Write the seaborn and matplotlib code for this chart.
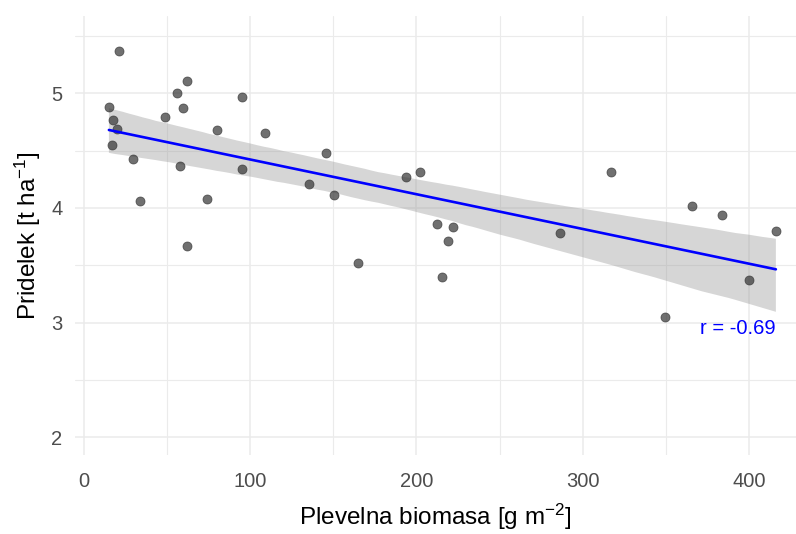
import numpy as np
import pandas as pd
import matplotlib
matplotlib.use("Agg")
import matplotlib.pyplot as plt
import seaborn as sns

biomass = [15.0, 21.0, 17.4, 19.8, 16.8, 29.7, 33.6, 48.9, 56.1, 61.8, 59.7, 57.6,
           61.8, 73.8, 80.0, 95.0, 95.0, 109.0, 145.5, 135.4, 150.6, 164.7, 193.9,
           202.1, 212.3, 222.0, 219.2, 215.2, 286.4, 317.1, 365.6, 383.7, 416.2,
           400.0, 349.4]
yield_ = [4.88, 5.37, 4.77, 4.69, 4.55, 4.43, 4.06, 4.79, 5.00, 5.11, 4.87, 4.37,
          3.67, 4.08, 4.68, 4.97, 4.34, 4.65, 4.48, 4.21, 4.11, 3.52, 4.27,
          4.31, 3.86, 3.83, 3.71, 3.40, 3.78, 4.31, 4.02, 3.94, 3.80,
          3.37, 3.05]
x_ticks = [0, 100, 200, 300, 400]
y_ticks = [2, 3, 4, 5]
r_label = "r = -0.69"

df = pd.DataFrame({"biomasa": biomass, "pridelek": yield_})

sns.set_theme(style="white")
fam = ["Liberation Sans Narrow", "Liberation Sans", "DejaVu Sans"]
plt.rcParams["font.family"] = fam
plt.rcParams["mathtext.fontset"] = "custom"
plt.rcParams["mathtext.rm"] = "Liberation Sans"
plt.rcParams["mathtext.it"] = "Liberation Sans"

fig = plt.figure(figsize=(7.96, 5.34), dpi=100)
ax = fig.add_axes([0.0942, 0.148, 0.906, 0.822])

grid_c = "#EBEBEB"
for v in np.arange(-50, 451, 50):
    ax.axvline(v, color=grid_c, lw=1.1 if v % 100 == 0 else 0.8, zorder=0)
for v in np.arange(1.5, 6.01, 0.5):
    ax.axhline(v, color=grid_c, lw=1.1 if v % 1 == 0 else 0.8, zorder=0)

sns.regplot(data=df, x="biomasa", y="pridelek", ax=ax, ci=95, seed=1,
            scatter_kws=dict(s=42, color="#333333", alpha=0.7, edgecolor="#333333",
                             linewidths=0.6, zorder=3),
            line_kws=dict(color="#0000FF", lw=1.9, zorder=4))
for coll in ax.collections[1:]:
    coll.set_facecolor("#999999")
    coll.set_alpha(0.4)
    coll.set_edgecolor("none")
    coll.set_zorder(2)

ax.text(416, 2.95, r_label, color="#0000FF", fontsize=14.5, ha="right", va="center")

ax.set_xlim(-5.4, 428.4)
ax.set_ylim(1.846, 5.674)
ax.set_xticks(x_ticks)
ax.set_yticks(y_ticks)
ax.tick_params(axis="both", length=0, labelsize=14.5, labelcolor="#4D4D4D")
ax.tick_params(axis="x", pad=12)
ax.tick_params(axis="y", pad=9)
for s in ax.spines.values():
    s.set_visible(False)
ax.set_xlabel("Plevelna biomasa [g m$^{-2}$]", fontsize=17.5, color="black", labelpad=8)
ax.set_ylabel("Pridelek [t ha$^{-1}$]", fontsize=17.5, color="black", labelpad=6)

fig.savefig("out.png", dpi=100)
